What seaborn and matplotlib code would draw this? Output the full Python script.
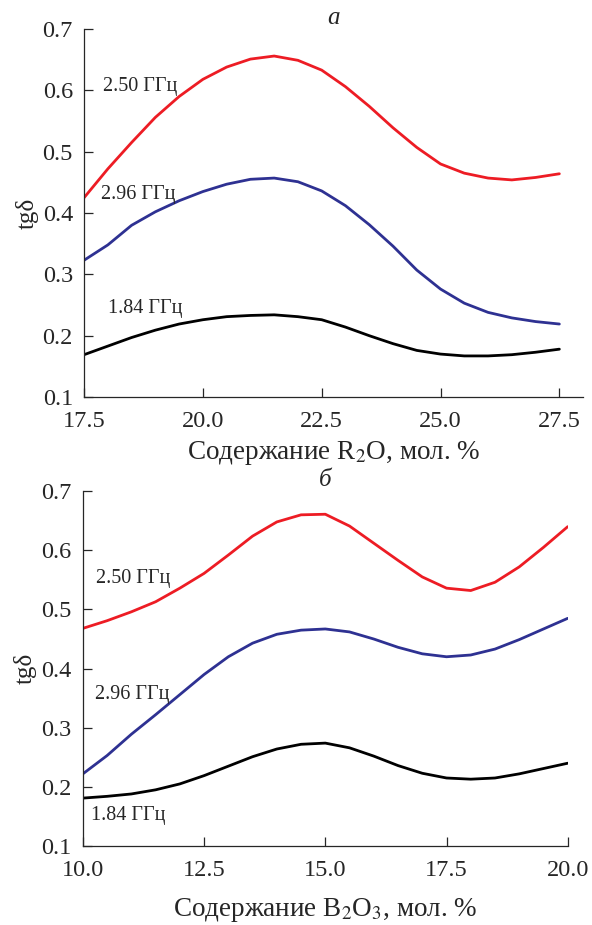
import matplotlib
matplotlib.use("Agg")
import matplotlib.pyplot as plt
import pandas as pd
import seaborn as sns

# panel a: R2O content
x_a = [17.5, 18.0, 18.5, 19.0, 19.5, 20.0, 20.5, 21.0, 21.5, 22.0, 22.5,
       23.0, 23.5, 24.0, 24.5, 25.0, 25.5, 26.0, 26.5, 27.0, 27.5]
red_a = [0.425, 0.472, 0.515, 0.556, 0.590, 0.618, 0.638, 0.651, 0.656, 0.649, 0.633,
         0.606, 0.574, 0.539, 0.507, 0.480, 0.465, 0.457, 0.454, 0.458, 0.464]
blue_a = [0.323, 0.348, 0.380, 0.402, 0.420, 0.435, 0.447, 0.455, 0.457, 0.451, 0.436,
          0.412, 0.381, 0.346, 0.307, 0.276, 0.253, 0.238, 0.229, 0.223, 0.219]
black_a = [0.169, 0.183, 0.197, 0.209, 0.219, 0.226, 0.231, 0.233, 0.234, 0.231, 0.226,
           0.214, 0.200, 0.187, 0.176, 0.170, 0.167, 0.167, 0.169, 0.173, 0.178]

# panel b: B2O3 content
x_b = [10.0, 10.5, 11.0, 11.5, 12.0, 12.5, 13.0, 13.5, 14.0, 14.5, 15.0,
       15.5, 16.0, 16.5, 17.0, 17.5, 18.0, 18.5, 19.0, 19.5, 20.0]
red_b = [0.468, 0.481, 0.496, 0.513, 0.536, 0.561, 0.592, 0.624, 0.648, 0.660, 0.661,
         0.641, 0.612, 0.583, 0.555, 0.536, 0.532, 0.546, 0.572, 0.605, 0.640]
blue_b = [0.222, 0.253, 0.289, 0.322, 0.356, 0.390, 0.420, 0.443, 0.458, 0.465, 0.467,
          0.462, 0.450, 0.436, 0.425, 0.420, 0.423, 0.433, 0.449, 0.467, 0.485]
black_b = [0.181, 0.184, 0.188, 0.195, 0.205, 0.219, 0.235, 0.251, 0.264, 0.272, 0.274,
           0.266, 0.252, 0.236, 0.223, 0.215, 0.213, 0.215, 0.222, 0.231, 0.240]

freqs = ["2.50 ГГц", "2.96 ГГц", "1.84 ГГц"]
colors = ["#ed1c24", "#2e3192", "#000000"]

sns.set_style("ticks")
plt.rcParams['font.family'] = ['Liberation Serif', 'DejaVu Serif']
plt.rcParams['mathtext.fontset'] = 'stix'

fig = plt.figure(figsize=(5.92, 9.25), dpi=100)
ax1 = fig.add_axes([0.142, 0.5708, 0.843, 0.3978])
ax2 = fig.add_axes([0.140, 0.0854, 0.819, 0.3836])


def make_df(x, series):
    frames = []
    for name, vals in zip(freqs, series):
        frames.append(pd.DataFrame({"x": x, "y": vals, "freq": name}))
    return pd.concat(frames, ignore_index=True)


df_a = make_df(x_a, [red_a, blue_a, black_a])
df_b = make_df(x_b, [red_b, blue_b, black_b])

for ax, df in [(ax1, df_a), (ax2, df_b)]:
    sns.lineplot(data=df, x="x", y="y", hue="freq", palette=colors,
                 linewidth=2.0, legend=False, ax=ax)
    sns.despine(ax=ax)
    ax.set_ylim(0.1, 0.7)
    ax.set_yticks([0.1, 0.2, 0.3, 0.4, 0.5, 0.6, 0.7])
    ax.tick_params(direction="in", length=6.5, width=0.9, labelsize=17.5)
    ax.tick_params(axis="y", pad=8)
    ax.tick_params(axis="x", pad=10)
    for s in ["left", "bottom"]:
        ax.spines[s].set_linewidth(0.9)
    ax.set_ylabel("tgδ", fontsize=18, labelpad=3)

ax1.set_xlim(17.5, 28.0)
ax1.set_xticks([17.5, 20.0, 22.5, 25.0, 27.5])
ax1.set_xticklabels(["17.5", "20.0", "22.5", "25.0", "27.5"])
ax1.set_xlabel("Содержание R$_2$O, мол. %", fontsize=19.5, labelpad=5)
ax1.set_title("а", fontsize=18, style="italic", pad=3)

ax2.set_xlim(10.0, 20.0)
ax2.set_xticks([10.0, 12.5, 15.0, 17.5, 20.0])
ax2.set_xticklabels(["10.0", "12.5", "15.0", "17.5", "20.0"])
ax2.set_xlabel("Содержание B$_2$O$_3$, мол. %", fontsize=19.5, labelpad=11)
ax2.set_title("б", fontsize=18, style="italic", pad=3)

# curve labels
lab_a = [(17.9, 0.607), (17.85, 0.431), (18.0, 0.245)]
lab_b = [(10.27, 0.553), (10.25, 0.357), (10.17, 0.152)]
for (lx, ly), name in zip(lab_a, freqs):
    ax1.text(lx, ly, name, fontsize=14.5, va="center", ha="left")
for (lx, ly), name in zip(lab_b, freqs):
    ax2.text(lx, ly, name, fontsize=14.5, va="center", ha="left")

fig.savefig("out.png", dpi=100)
